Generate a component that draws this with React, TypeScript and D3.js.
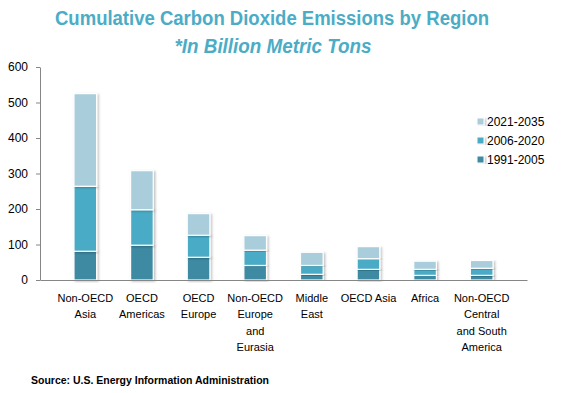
import React, { useEffect, useRef } from "react";
import * as d3 from "d3";

const regions = [
  "Non-OECD|Asia",
  "OECD|Americas",
  "OECD|Europe",
  "Non-OECD|Europe|and|Eurasia",
  "Middle|East",
  "OECD Asia",
  "Africa",
  "Non-OECD|Central|and South|America",
];
const series = ["1991-2005", "2006-2020", "2021-2035"];
const v1991 = [81, 98, 64, 41, 16, 30, 13, 13];
const v2006 = [183, 100, 62, 43, 25, 30, 17, 20];
const v2021 = [261, 110, 61, 41, 37, 34, 23, 22];
const yTicks = [0, 100, 200, 300, 400, 500, 600];

const colors = ["#3d8aa2", "#4aabc5", "#a9cddb"];
const font = "'Liberation Sans', Arial, sans-serif";

const App = () => {
  const ref = useRef<SVGSVGElement>(null);

  useEffect(() => {
    const svg = d3.select(ref.current);
    svg.selectAll("*").remove();

    const left = 40, right = 527, top = 67, bottom = 280;

    const rows = regions.map((r, i) => ({
      region: r,
      "1991-2005": v1991[i],
      "2006-2020": v2006[i],
      "2021-2035": v2021[i],
    }));
    const stacked = d3.stack<any>().keys(series)(rows);

    const x = d3.scaleBand().domain(regions).range([left, right]).padding(0.6);
    const y = d3.scaleLinear().domain([0, 600]).range([bottom, top]);

    // title
    svg.append("text")
      .attr("x", 272).attr("y", 25)
      .attr("text-anchor", "middle")
      .attr("textLength", 434).attr("lengthAdjust", "spacingAndGlyphs")
      .style("font-family", font).style("font-weight", "bold").style("font-size", "20px")
      .style("fill", "#4bacc6")
      .text("Cumulative Carbon Dioxide Emissions by Region");
    svg.append("text")
      .attr("x", 273).attr("y", 53)
      .attr("text-anchor", "middle")
      .attr("textLength", 197).attr("lengthAdjust", "spacingAndGlyphs")
      .style("font-family", font).style("font-weight", "bold").style("font-style", "italic")
      .style("font-size", "20px").style("fill", "#4bacc6")
      .text("*In Billion Metric Tons");

    // shadow filter
    const defs = svg.append("defs");
    const f = defs.append("filter").attr("id", "sh").attr("x", "-20%").attr("y", "-5%").attr("width", "150%").attr("height", "115%");
    f.append("feDropShadow").attr("dx", 1.5).attr("dy", 1).attr("stdDeviation", 1)
      .attr("flood-color", "#000").attr("flood-opacity", 0.25);

    // bars
    stacked.forEach((s, si) => {
      svg.append("g").selectAll("rect").data(s).enter().append("rect")
        .attr("x", (d: any) => x(d.data.region)!)
        .attr("width", x.bandwidth())
        .attr("y", (d) => y(d[1]))
        .attr("height", (d) => y(d[0]) - y(d[1]))
        .attr("fill", colors[si])
        .attr("stroke", "#fff")
        .attr("stroke-width", 1.2)
        .attr("filter", "url(#sh)");
    });

    // y axis
    const ya = svg.append("g").attr("transform", `translate(${left},0)`)
      .call(d3.axisLeft(y).tickValues(yTicks).tickSize(4).tickSizeOuter(0).tickPadding(8));
    ya.select(".domain").attr("stroke", "#868686");
    ya.selectAll("line").attr("stroke", "#868686");
    ya.selectAll("text").style("font-family", font).style("font-size", "12px").style("fill", "#000");

    // x axis
    const xa = svg.append("g").attr("transform", `translate(0,${bottom})`)
      .call(d3.axisBottom(x).tickSize(0).tickSizeOuter(0).tickFormat(() => ""));
    xa.select(".domain").attr("stroke", "#868686");
    xa.selectAll(".tick").each(function (d: any) {
      const t = d3.select(this).append("text")
        .attr("text-anchor", "middle")
        .style("font-family", font).style("font-size", "11px").style("fill", "#000");
      d.split("|").forEach((line: string, i: number) => {
        t.append("tspan").attr("x", 0).attr("y", 22 + i * 16.3).text(line);
      });
    });

    // legend
    const lg = svg.append("g");
    [...series].reverse().forEach((s, i) => {
      const si = series.indexOf(s);
      const yy = 122 + i * 19;
      lg.append("rect").attr("x", 477).attr("y", yy - 4).attr("width", 7).attr("height", 7)
        .attr("fill", colors[si]).attr("stroke", "#fff").attr("filter", "url(#sh)");
      lg.append("text").attr("x", 487).attr("y", yy + 4)
        .style("font-family", font).style("font-size", "12px").style("fill", "#000")
        .text(s);
    });

    // source
    svg.append("text").attr("x", 31).attr("y", 384)
      .style("font-family", font).style("font-weight", "bold").style("font-size", "11px")
      .attr("textLength", 238).attr("lengthAdjust", "spacingAndGlyphs")
      .text("Source: U.S. Energy Information Administration");
  }, []);

  return (
    <svg ref={ref} width={572} height={393}
      style={{ position: "absolute", left: 0, top: 0, background: "#fff" }} />
  );
};

export default App;
